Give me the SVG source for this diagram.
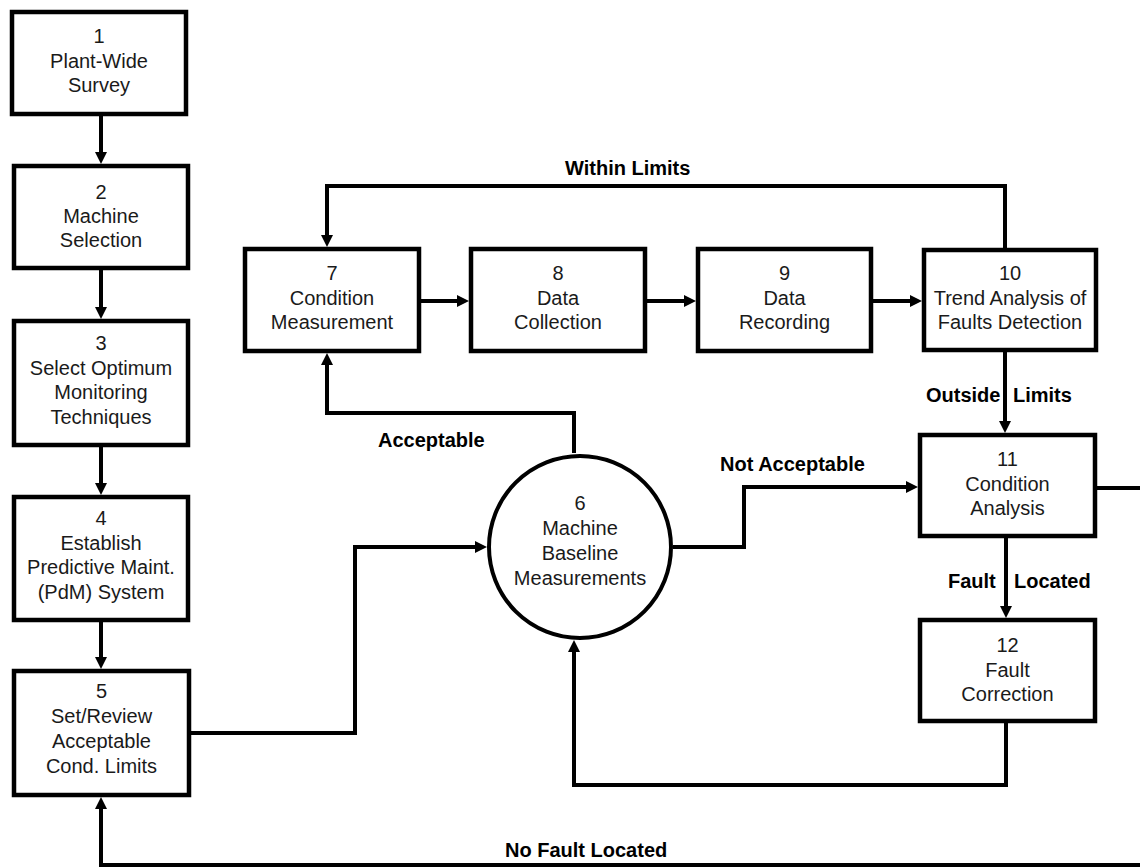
<svg xmlns="http://www.w3.org/2000/svg" width="1140" height="867" viewBox="0 0 1140 867">
<style>
.box{fill:#fff;stroke:#000;stroke-width:4.5}
.t{font-family:"Liberation Sans",Arial,sans-serif;font-size:20px;fill:#1a1a1a;text-anchor:middle}
.lbl{font-family:"Liberation Sans",Arial,sans-serif;font-size:20px;font-weight:bold;fill:#000}
.c{fill:none;stroke:#000;stroke-width:4}
</style>
<defs>
<marker id="ah" markerUnits="userSpaceOnUse" markerWidth="12" markerHeight="12" refX="2" refY="6" orient="auto">
<path d="M0,0 L12,6 L0,12 z" fill="#000"/>
</marker>
</defs>
<rect width="1140" height="867" fill="#fff"/>
<g id="connectors">
<path class="c" d="M101,116 V154" marker-end="url(#ah)"/>
<path class="c" d="M101,270 V309" marker-end="url(#ah)"/>
<path class="c" d="M101,447 V485" marker-end="url(#ah)"/>
<path class="c" d="M101,622 V659" marker-end="url(#ah)"/>
<path class="c" d="M190,733 H355 V547 H477" marker-end="url(#ah)"/>
<path class="c" d="M574,453 V413 H327 V363" marker-end="url(#ah)"/>
<path class="c" d="M421,301 H459" marker-end="url(#ah)"/>
<path class="c" d="M647,301 H686" marker-end="url(#ah)"/>
<path class="c" d="M873,301 H912" marker-end="url(#ah)"/>
<path class="c" d="M1005,248 V186 H327 V237" marker-end="url(#ah)"/>
<path class="c" d="M1005,352 V423" marker-end="url(#ah)"/>
<path class="c" d="M673,547 H744 V487 H908" marker-end="url(#ah)"/>
<path class="c" d="M1006,538 V608" marker-end="url(#ah)"/>
<path class="c" d="M1006,723 V785 H574 V650" marker-end="url(#ah)"/>
<path class="c" d="M1097,488 H1140"/>
<path class="c" d="M1140,865 H101 V807" marker-end="url(#ah)"/>
<text class="lbl" x="565" y="175">Within Limits</text>
<text class="lbl" x="378" y="447">Acceptable</text>
<text class="lbl" x="720" y="471">Not Acceptable</text>
<text class="lbl" y="402"><tspan x="926">Outside</tspan><tspan x="1013">Limits</tspan></text>
<text class="lbl" y="588"><tspan x="948">Fault</tspan><tspan x="1014">Located</tspan></text>
<text class="lbl" x="505" y="857">No Fault Located</text>
</g>
<g id="n1">
<rect class="box" x="12" y="12" width="174" height="102"/>
<text class="t" x="99" y="43">1<tspan x="99" dy="24.5">Plant-Wide</tspan><tspan x="99" dy="24.5">Survey</tspan></text>
</g>
<g id="n2">
<rect class="box" x="14" y="166" width="174" height="102"/>
<text class="t" x="101" y="199">2<tspan x="101" dy="24">Machine</tspan><tspan x="101" dy="24">Selection</tspan></text>
</g>
<g id="n3">
<rect class="box" x="14" y="321" width="174" height="124"/>
<text class="t" x="101" y="350">3<tspan x="101" dy="24.5">Select Optimum</tspan><tspan x="101" dy="24.5">Monitoring</tspan><tspan x="101" dy="24.5">Techniques</tspan></text>
</g>
<g id="n4">
<rect class="box" x="14" y="497" width="174" height="123"/>
<text class="t" x="101" y="525">4<tspan x="101" dy="24.5">Establish</tspan><tspan x="101" dy="24.5">Predictive Maint.</tspan><tspan x="101" dy="24.5">(PdM) System</tspan></text>
</g>
<g id="n5">
<rect class="box" x="14" y="671" width="175" height="124"/>
<text class="t" x="101.5" y="698">5<tspan x="101.5" dy="25">Set/Review</tspan><tspan x="101.5" dy="25">Acceptable</tspan><tspan x="101.5" dy="25">Cond. Limits</tspan></text>
</g>
<g id="n6">
<circle cx="580" cy="547" r="91" fill="#fff" stroke="#000" stroke-width="4"/>
<text class="t" x="580" y="510">6<tspan x="580" dy="25">Machine</tspan><tspan x="580" dy="24.5">Baseline</tspan><tspan x="580" dy="25.5">Measurements</tspan></text>
</g>
<g id="n7">
<rect class="box" x="245" y="249" width="174" height="102"/>
<text class="t" x="332" y="280">7<tspan x="332" dy="24.5">Condition</tspan><tspan x="332" dy="24.5">Measurement</tspan></text>
</g>
<g id="n8">
<rect class="box" x="471" y="249" width="174" height="102"/>
<text class="t" x="558" y="280">8<tspan x="558" dy="24.5">Data</tspan><tspan x="558" dy="24.5">Collection</tspan></text>
</g>
<g id="n9">
<rect class="box" x="698" y="249" width="173" height="102"/>
<text class="t" x="784.5" y="280">9<tspan x="784.5" dy="24.5">Data</tspan><tspan x="784.5" dy="24.5">Recording</tspan></text>
</g>
<g id="n10">
<rect class="box" x="924" y="250" width="172" height="100"/>
<text class="t" x="1010" y="280">10<tspan x="1010" dy="24.5">Trend Analysis of</tspan><tspan x="1010" dy="24.5">Faults Detection</tspan></text>
</g>
<g id="n11">
<rect class="box" x="920" y="435" width="175" height="101"/>
<text class="t" x="1007.5" y="466">11<tspan x="1007.5" dy="25">Condition</tspan><tspan x="1007.5" dy="24">Analysis</tspan></text>
</g>
<g id="n12">
<rect class="box" x="920" y="620" width="175" height="101"/>
<text class="t" x="1007.5" y="652">12<tspan x="1007.5" dy="24.5">Fault</tspan><tspan x="1007.5" dy="24.5">Correction</tspan></text>
</g>
</svg>
